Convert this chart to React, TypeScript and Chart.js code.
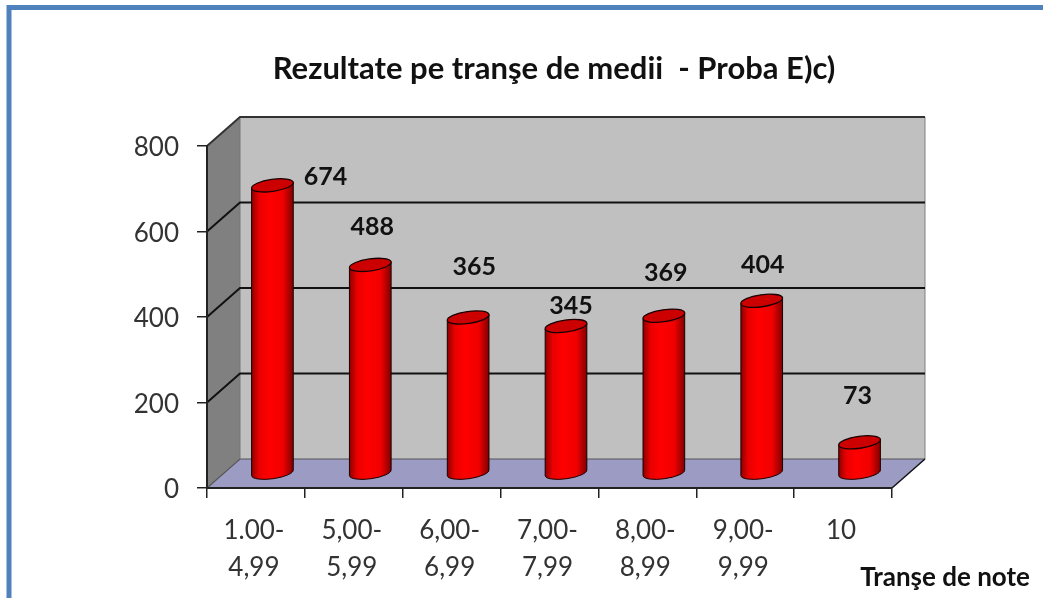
import React, { useEffect, useRef } from "react";
import { Chart, registerables } from "chart.js";

Chart.register(...registerables);

const categories: string[][] = [["1.00-", "4,99"], ["5,00-", "5,99"], ["6,00-", "6,99"], ["7,00-", "7,99"], ["8,00-", "8,99"], ["9,00-", "9,99"], ["10"]];
const values: number[] = [674, 488, 365, 345, 369, 404, 73];
const chartTitle = "Rezultate pe tranşe de medii  - Proba E)c)";
const xAxisTitle = "Tranşe de note";
const yTicksMax = 800;
const yTicksStep = 200;

// label displacements relative to the top of each cylinder (manual placement in the original)
const labelDx: number[] = [53, 2, 6, 5, 2, 1, -2];
const labelDy: number[] = [-8, -38, -51, -20, -43, -36, -46];

const FONT = "Lato, 'Noto Sans', sans-serif";
const DEPTH_X = 33;
const DEPTH_Y = 29;

const poly = (ctx: CanvasRenderingContext2D, pts: number[][], fill: string) => {
  ctx.beginPath();
  pts.forEach((p, i) => (i ? ctx.lineTo(p[0], p[1]) : ctx.moveTo(p[0], p[1])));
  ctx.closePath();
  ctx.fillStyle = fill;
  ctx.fill();
};

const line = (ctx: CanvasRenderingContext2D, pts: number[][], color: string, w: number) => {
  ctx.beginPath();
  pts.forEach((p, i) => (i ? ctx.lineTo(p[0], p[1]) : ctx.moveTo(p[0], p[1])));
  ctx.strokeStyle = color;
  ctx.lineWidth = w;
  ctx.stroke();
};

const nudgeLabels = (scale: any, dx: number, dy: number) => {
  const original = Object.getPrototypeOf(scale).drawLabels;
  scale.drawLabels = function (area: any) {
    this.ctx.save();
    this.ctx.translate(dx, dy);
    original.call(this, area);
    this.ctx.restore();
  };
};

const scenePlugin = {
  id: "scene3d",
  afterLayout(chart: any) {
    if (chart.titleBlock) {
      chart.titleBlock.left = 65;
      chart.titleBlock.right = 1043;
    }
    nudgeLabels(chart.scales.y, 0, 2);
    nudgeLabels(chart.scales.x, -2, 0);
  },
  beforeDraw(chart: any) {
    const { ctx, chartArea: a, scales } = chart;
    const { left: l, right: r, top: t, bottom: b } = a;
    ctx.save();
    ctx.fillStyle = "#ffffff";
    ctx.fillRect(0, 0, chart.width, chart.height);
    // slide frame
    ctx.strokeStyle = "#4f81bd";
    ctx.lineWidth = 5;
    ctx.strokeRect(9, 7.5, 1200, 800);
    // walls
    poly(ctx, [[l, t], [l + DEPTH_X, t - DEPTH_Y], [l + DEPTH_X, b - DEPTH_Y], [l, b]], "#808080");
    poly(ctx, [[l + DEPTH_X, t - DEPTH_Y], [r + DEPTH_X, t - DEPTH_Y], [r + DEPTH_X, b - DEPTH_Y], [l + DEPTH_X, b - DEPTH_Y]], "#c0c0c0");
    poly(ctx, [[l, b], [r, b], [r + DEPTH_X, b - DEPTH_Y], [l + DEPTH_X, b - DEPTH_Y]], "#9b9bc4");
    // outlines
    line(ctx, [[l, b], [l + DEPTH_X, b - DEPTH_Y], [r + DEPTH_X, b - DEPTH_Y]], "#555555", 1.2);
    line(ctx, [[l + DEPTH_X, b - DEPTH_Y], [l + DEPTH_X, t - DEPTH_Y]], "#777777", 1);
    line(ctx, [[r + DEPTH_X, b - DEPTH_Y], [r + DEPTH_X, t - DEPTH_Y]], "#808080", 1);
    line(ctx, [[r, b], [r + DEPTH_X, b - DEPTH_Y]], "#111111", 1.5);
    // gridlines from the value scale
    scales.y.ticks.forEach((tk: any) => {
      const y = scales.y.getPixelForValue(tk.value);
      if (tk.value === 0) return;
      const c = tk.value === yTicksMax ? "#333333" : "#111111";
      line(ctx, [[l, y], [l + DEPTH_X, y - DEPTH_Y], [r + DEPTH_X, y - DEPTH_Y]], c, 2);
    });
    ctx.restore();
  },
  beforeDatasetDraw(chart: any, args: any) {
    const { ctx } = chart;
    const meta = args.meta;
    const tilt = (-8 * Math.PI) / 180;
    meta.data.forEach((bar: any) => {
      const cx = bar.x + DEPTH_X / 2;
      const top = bar.y - DEPTH_Y / 2;
      const base = bar.base - DEPTH_Y / 2;
      const rx = bar.width / 2;
      const ry = 6;
      const ex = rx * Math.cos(tilt);
      const ey = rx * Math.sin(tilt);
      const grad = ctx.createLinearGradient(cx - rx, 0, cx + rx, 0);
      grad.addColorStop(0, "#8a0000");
      grad.addColorStop(0.18, "#e80000");
      grad.addColorStop(0.42, "#ff0000");
      grad.addColorStop(0.75, "#f00000");
      grad.addColorStop(1, "#7e0000");
      ctx.save();
      ctx.beginPath();
      ctx.moveTo(cx - ex, top - ey);
      ctx.lineTo(cx - ex, base - ey);
      ctx.ellipse(cx, base, rx, ry, tilt, Math.PI, 0, true);
      ctx.lineTo(cx + ex, top + ey);
      ctx.closePath();
      ctx.fillStyle = grad;
      ctx.fill();
      ctx.strokeStyle = "#1a0000";
      ctx.lineWidth = 1;
      ctx.stroke();
      ctx.beginPath();
      ctx.ellipse(cx, top, rx, ry, tilt, 0, Math.PI * 2);
      ctx.fillStyle = "#cc0000";
      ctx.fill();
      ctx.strokeStyle = "#1a0000";
      ctx.lineWidth = 1.3;
      ctx.stroke();
      ctx.restore();
    });
    return false;
  },
  afterDatasetsDraw(chart: any) {
    const { ctx, scales } = chart;
    const meta = chart.getDatasetMeta(0);
    ctx.save();
    ctx.fillStyle = "#111111";
    ctx.textAlign = "center";
    ctx.textBaseline = "middle";
    ctx.font = `bold 25px ${FONT}`;
    meta.data.forEach((bar: any, i: number) => {
      ctx.fillText(String(values[i]), bar.x + DEPTH_X / 2 + labelDx[i], bar.y - DEPTH_Y / 2 + labelDy[i]);
    });
    ctx.font = `bold 26px ${FONT}`;
    ctx.textAlign = "right";
    ctx.fillText(xAxisTitle, scales.x.right + 138, 578);
    ctx.restore();
  },
};

export default function App() {
  const ref = useRef<HTMLCanvasElement | null>(null);
  useEffect(() => {
    document.body.style.margin = "0";
    const chart = new Chart(ref.current as HTMLCanvasElement, {
      type: "bar",
      data: {
        labels: categories as any,
        datasets: [{ label: "Rezultate", data: values, backgroundColor: "#ff0000", barPercentage: 0.43, categoryPercentage: 1 }],
      },
      options: {
        responsive: false,
        animation: false,
        layout: { autoPadding: false, padding: { left: 0, right: 151, top: 0, bottom: 0 } },
        plugins: {
          legend: { display: false },
          tooltip: { enabled: false },
          title: {
            display: true,
            text: chartTitle,
            color: "#111111",
            font: { family: FONT, size: 31, weight: "bold", lineHeight: 1.2 },
            padding: { top: 50, bottom: 58.8 },
          },
        },
        scales: {
          x: {
            afterFit: (s: any) => { s.height = 110; },
            border: { color: "#222222", width: 2 },
            grid: { drawOnChartArea: false, drawTicks: true, tickLength: 10, color: "#222222", lineWidth: 1.5 },
            ticks: { color: "#333333", font: { family: FONT, size: 26, lineHeight: 1.42 }, padding: 14, maxRotation: 0, autoSkip: false },
          },
          y: {
            min: 0,
            max: yTicksMax,
            afterFit: (s: any) => { s.width = 207; },
            border: { color: "#222222", width: 2 },
            grid: { drawOnChartArea: false, drawTicks: true, tickLength: 10, color: "#222222", lineWidth: 1.5 },
            ticks: { stepSize: yTicksStep, color: "#333333", font: { family: FONT, size: 26 }, padding: 18 },
          },
        },
      },
      plugins: [scenePlugin],
    } as any);
    return () => chart.destroy();
  }, []);
  return (
    <div style={{ position: "absolute", left: 0, top: 0, width: 1043, height: 598, overflow: "hidden" }}>
      <canvas ref={ref} width={1043} height={598} style={{ display: "block" }} />
    </div>
  );
}
